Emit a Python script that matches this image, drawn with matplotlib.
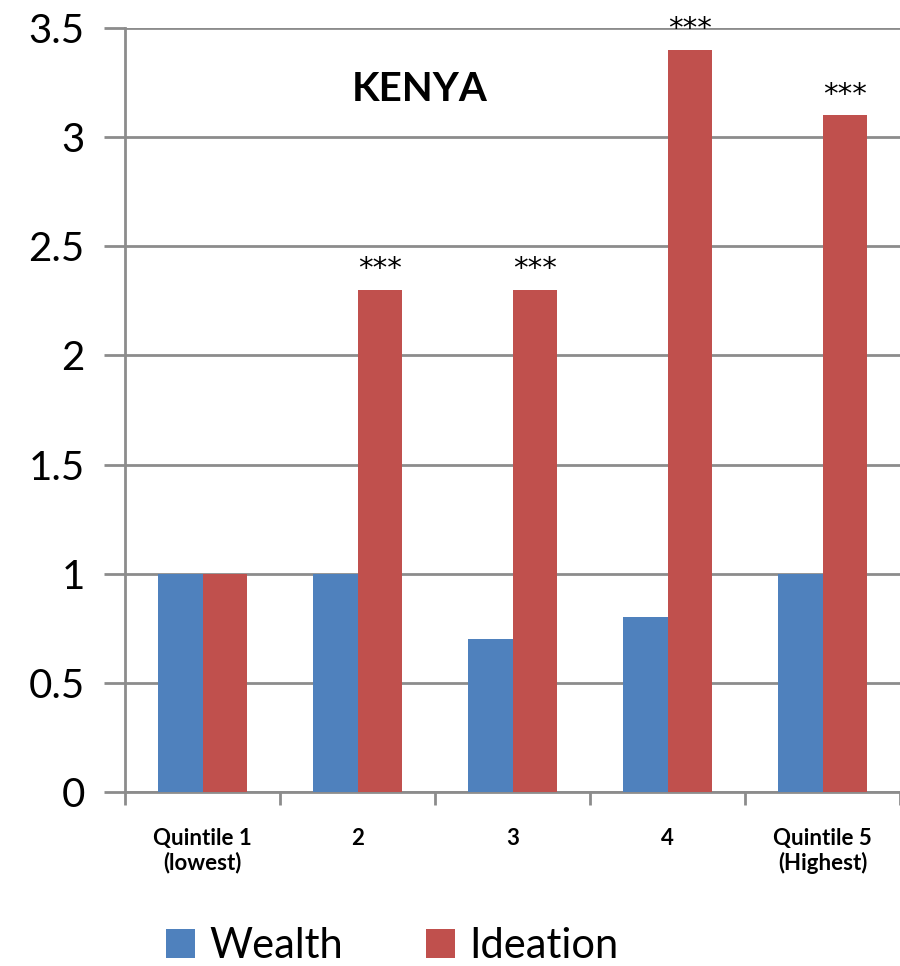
import matplotlib
matplotlib.use("Agg")
import matplotlib.pyplot as plt
import numpy as np

categories = ["Quintile 1\n(lowest)", "2", "3", "4", "Quintile 5\n(Highest)"]
wealth = [1.0, 1.0, 0.7, 0.8, 1.0]
ideation = [1.0, 2.3, 2.3, 3.4, 3.1]
stars = ["", "***", "***", "***", "***"]

plt.rcParams['font.family'] = ['Lato', 'DejaVu Sans']

blue = "#4F81BD"
red = "#C0504D"
grid = "#8C8C8C"

fig = plt.figure(figsize=(9, 9.66), dpi=100)
ax = fig.add_axes([0.139, 0.180, 0.861, 0.791])

x = np.arange(len(categories))
w = 0.287
ax.bar(x - w / 2, wealth, w, color=blue, label="Wealth", zorder=3)
bars = ax.bar(x + w / 2, ideation, w, color=red, label="Ideation", zorder=3)

for b, s in zip(bars, stars):
    if s:
        ax.text(b.get_x() + b.get_width() / 2, b.get_height() + 0.03, s,
                ha="center", va="bottom", fontsize=21, family="DejaVu Sans")

ax.set_xlim(-0.5, 4.5)
ax.set_ylim(0, 3.5)
ax.set_yticks(np.arange(0, 3.51, 0.5))
ax.set_yticklabels(["0", "0.5", "1", "1.5", "2", "2.5", "3", "3.5"], fontsize=29)
ax.yaxis.grid(True, color=grid, linewidth=2, zorder=0)
ax.set_axisbelow(True)

ax.set_xticks(x)
ax.set_xticklabels(categories, fontsize=16, fontweight="bold", linespacing=1.15)
ax.set_xticks(np.arange(-0.5, 4.6, 1), minor=True)
ax.tick_params(axis="x", which="major", length=0, pad=26)
ax.tick_params(axis="x", which="minor", length=9, width=2, color=grid)
ax.tick_params(axis="y", length=15, width=2, color=grid, pad=14)

for side in ["top", "right"]:
    ax.spines[side].set_visible(False)
for side in ["left", "bottom"]:
    ax.spines[side].set_color(grid)
    ax.spines[side].set_linewidth(2)

ax.text(1.40, 3.22, "KENYA", ha="center", va="center", fontsize=29, fontweight="bold")

fig.legend(loc="lower left", bbox_to_anchor=(0.143, -0.038), ncol=2, frameon=False,
           fontsize=30, handlelength=0.68, handleheight=0.68, handletextpad=0.35,
           columnspacing=2.0)

fig.savefig("out.png", dpi=100)
